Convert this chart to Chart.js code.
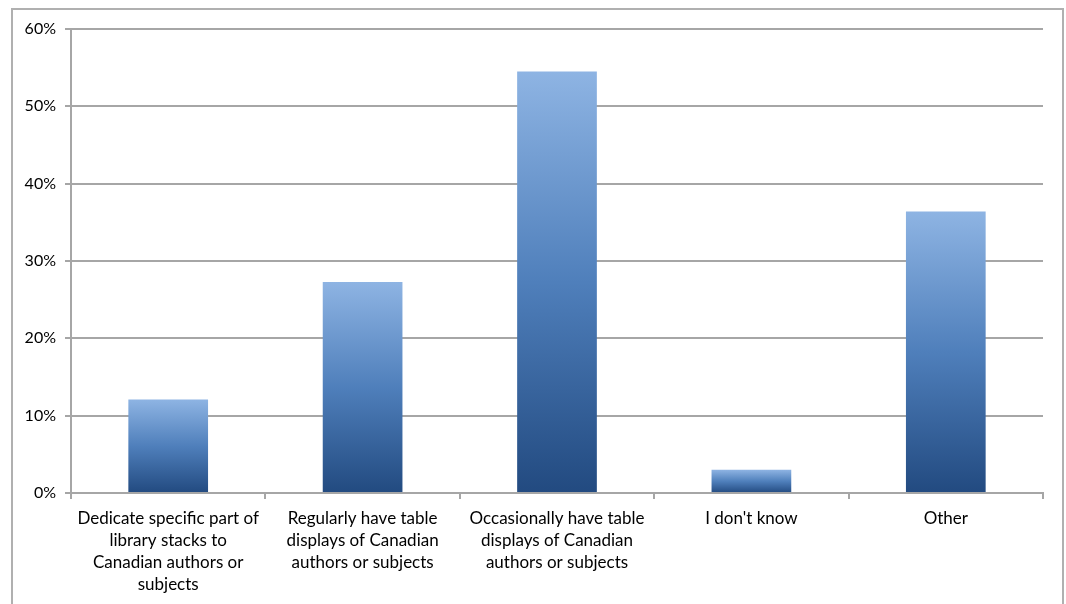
<!DOCTYPE html>
<html>
<head>
<meta charset="utf-8">
<script src="https://cdn.jsdelivr.net/npm/chart.js@4"></script>
<style>
  body { margin: 0; background: #fff; }
  #wrap { position: relative; width: 1066px; height: 604px; overflow: hidden; }
  #frame { position: absolute; left: 11px; top: 8px; width: 1049px; height: 620px; border: 2px solid #b0b0b0; }
  canvas { position: absolute; left: 0; top: 0; }
</style>
</head>
<body>
<div id="wrap">
  <div id="frame"></div>
  <canvas id="chart" width="1066" height="604"></canvas>
</div>
<script>
// Données (n = 33 répondants)
const categories = [
  ['Dedicate specific part of', 'library stacks to', 'Canadian authors or', 'subjects'],
  ['Regularly have table', 'displays of Canadian', 'authors or subjects'],
  ['Occasionally have table', 'displays of Canadian', 'authors or subjects'],
  "I don't know",
  'Other'
];
const percentages = [12.1, 27.3, 54.5, 3.0, 36.4];
const yTicks = [0, 10, 20, 30, 40, 50, 60];

const gridColor = '#a6a6a6';
const fontFamily = 'Lato, "Open Sans", sans-serif';

// Dégradé vertical par barre (clair en haut, foncé en bas)
function barGradient(ctx) {
  const chart = ctx.chart;
  if (!chart.chartArea) return '#4f81bd';
  const y = chart.scales.y;
  const top = y.getPixelForValue(ctx.raw);
  const bottom = y.getPixelForValue(0);
  const g = chart.ctx.createLinearGradient(0, top, 0, bottom);
  g.addColorStop(0, '#8eb4e3');
  g.addColorStop(0.5, '#4f7fbb');
  g.addColorStop(1, '#224a80');
  return g;
}

new Chart(document.getElementById('chart').getContext('2d'), {
  type: 'bar',
  data: {
    labels: categories,
    datasets: [{
      data: percentages,
      backgroundColor: barGradient,
      categoryPercentage: 1,
      barPercentage: 0.41
    }]
  },
  options: {
    responsive: false,
    animation: false,
    layout: { padding: { left: 0, top: 29, right: 23, bottom: 0 } },
    plugins: { legend: { display: false }, tooltip: { enabled: false } },
    scales: {
      x: {
        afterFit: s => { s.height = 111; },
        grid: { offset: true, drawOnChartArea: false, color: gridColor, lineWidth: 2, tickLength: 6 },
        border: { color: gridColor, width: 2 },
        ticks: { color: '#000', font: { family: fontFamily, size: 17, lineHeight: 1.3 }, padding: 8, maxRotation: 0, autoSkip: false }
      },
      y: {
        min: 0,
        max: 60,
        afterFit: s => { s.width = 71; },
        afterBuildTicks: s => { s.ticks = yTicks.map(v => ({ value: v })); },
        grid: { color: gridColor, lineWidth: 2, tickLength: 6 },
        border: { color: gridColor, width: 2 },
        ticks: { color: '#000', font: { family: fontFamily, size: 16 }, padding: 9, callback: v => v + '%' }
      }
    }
  }
});
</script>
</body>
</html>
